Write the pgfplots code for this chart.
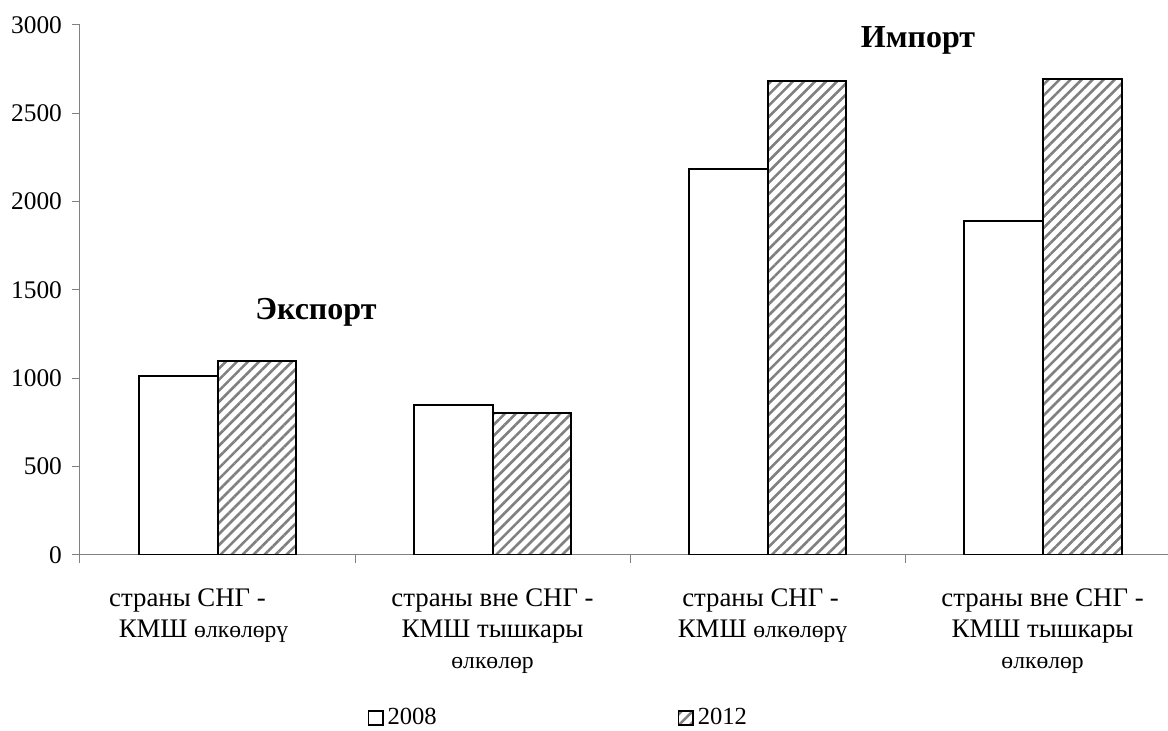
\documentclass[border=0pt]{standalone}
\usepackage{pgfplots}
\pgfplotsset{compat=1.18}
\usepackage{fontspec}
\setmainfont{Liberation Serif}
\usetikzlibrary{patterns.meta}
\definecolor{axgray}{RGB}{128,128,128}
\definecolor{hatch}{RGB}{128,128,128}
% smaller words, as in the source
\newcommand\sm[1]{{\fontsize{11.8}{15}\selectfont #1}}

\begin{document}
\begin{tikzpicture}
\begin{axis}[
  scale only axis, width=544pt, height=265pt,
  xmin=-0.5, xmax=3.456, ymin=0, ymax=3000,
  ybar=0pt, bar width=0.287,
  axis x line*=bottom, axis y line*=left,
  axis line style={axgray, line width=0.5pt},
  tick style={axgray, line width=0.5pt},
  tick align=outside, major tick length=4pt, minor tick length=4pt,
  ytick={0,500,...,3000},
  xtick={0,1,2,3},
  major x tick style={draw=none},
  minor xtick={-0.5,0.5,1.5,2.5},
  xticklabels={{страны СНГ -\kern30pt\\КМШ \sm{өлкөлөрү}\kern14pt},{страны вне СНГ -\\КМШ тышкары\\\sm{өлкөлөр}},{страны СНГ -\kern7pt\\КМШ \sm{өлкөлөрү}\kern5pt},{страны вне СНГ -\\КМШ тышкары\\\sm{өлкөлөр}}},
  xticklabel style={align=center, font=\fontsize{13.4}{15.5}\selectfont, yshift=-9.5pt},
  yticklabel style={font=\fontsize{12.7}{14}\selectfont, xshift=-1.5pt},
  /pgf/number format/assume math mode=true,
  /pgf/number format/1000 sep={},
  scaled y ticks=false,
  legend style={draw=none, at={(0.4405,-0.3075)}, anchor=center, font=\fontsize{12.3}{14}\selectfont,
    /tikz/every even column/.append style={column sep=118.5pt}},
  legend columns=2,
  legend image code/.code={\draw[#1, line width=0.8pt] (0pt,-3.6pt) rectangle (7.2pt,3.6pt);},
]
\addplot[draw=black, fill=white, line width=1pt] coordinates {(0,1013) (1,847) (2,2187) (3,1889)};
\addlegendentry{2008}
\addplot[draw=black, line width=1pt, pattern={Lines[angle=45,distance=3.9pt,line width=1.3pt]}, pattern color=hatch] coordinates {(0,1096) (1,805) (2,2685) (3,2693)};
\addlegendentry{2012}
\node[font=\bfseries\fontsize{16}{16}\selectfont] at (axis cs:0.358,1375) {Экспорт};
\node[font=\bfseries\fontsize{16}{16}\selectfont] at (axis cs:2.547,2915) {Импорт};
\end{axis}
\pgfresetboundingbox
\path (-40pt,-88pt) rectangle (544pt,277.5pt);
\end{tikzpicture}
\end{document}
